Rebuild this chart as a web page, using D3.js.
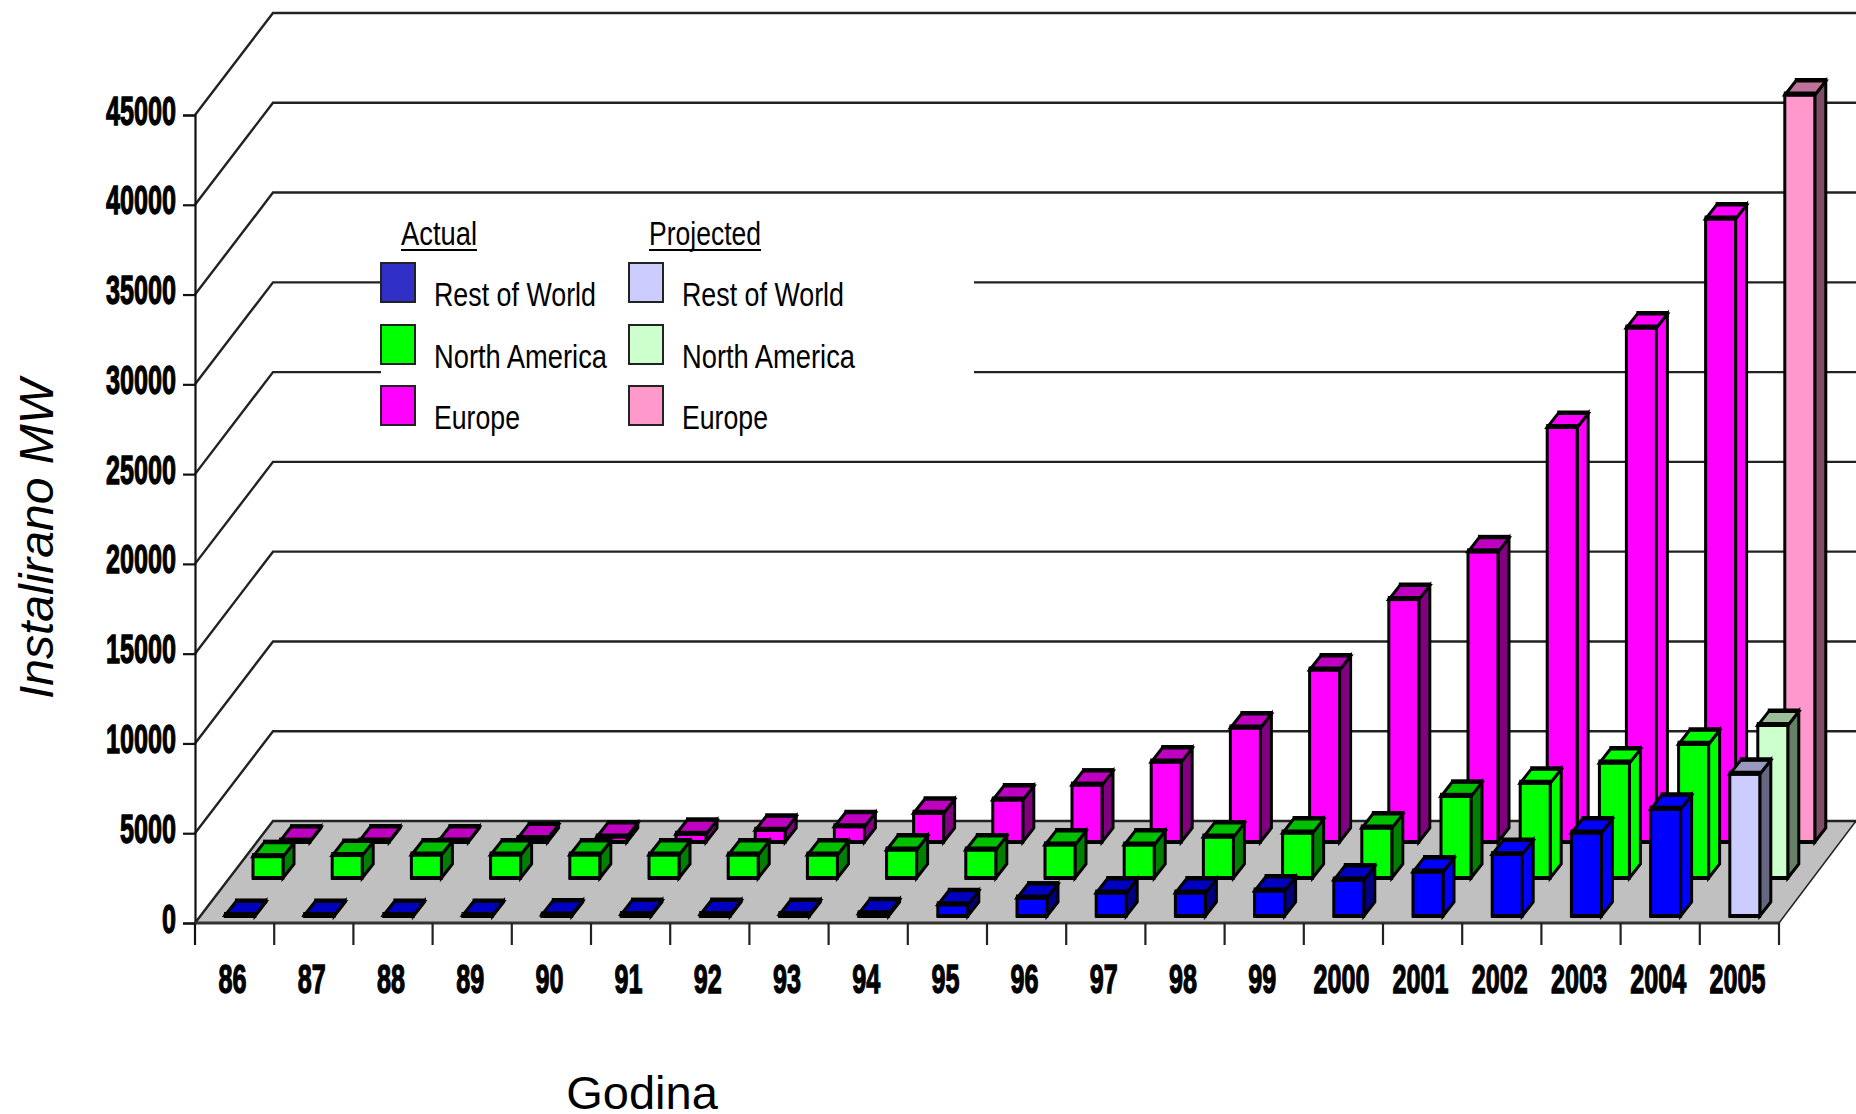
<!DOCTYPE html>
<html>
<head>
<meta charset="utf-8">
<title>Instalirano MW</title>
<script src="https://cdn.jsdelivr.net/npm/d3@7/dist/d3.min.js"></script>
<style>
  html, body { margin: 0; padding: 0; background: #fff; }
  svg { display: block; }
  text { font-family: "Liberation Sans", Arial, sans-serif; fill: #000; }
  .tick-label { font-weight: bold; font-size: 41px; stroke: #000; stroke-width: 1.3px; }
</style>
</head>
<body>
<svg id="chart" width="1856" height="1114"></svg>
<script>
// Installed capacity per year and region; the last year is a projection.
const years = ["86","87","88","89","90","91","92","93","94","95","96","97","98","99","2000","2001","2002","2003","2004","2005"];
const restOfWorld = [30,30,30,30,60,80,80,80,130,620,1000,1280,1280,1390,2000,2450,3430,4620,5940,7900];
const northAmerica = [1190,1250,1280,1280,1280,1280,1280,1280,1560,1560,1840,1840,2280,2500,2780,4550,5280,6400,7450,8500];
const europe = [50,50,50,200,280,430,650,850,1600,2340,3170,4450,6350,9580,13500,16160,23090,28630,34700,41600];
const yTicks = [0,5000,10000,15000,20000,25000,30000,35000,40000,45000];
const projectedYear = "2005";

const legendRows = ["Rest of World", "North America", "Europe"];
const legendRowWidths = [162, 173, 86];

// Frame of the oblique chart box.
const originX = 195, floorY = 923, endX = 1779, rightX = 1856;
const wallDX = 78, wallDY = -102;
const barW = 30, barDX = 11, barDY = -14;

const x = d3.scaleBand().domain(years).range([originX, endX]);
const y = d3.scaleLinear().domain([0, 45000]).range([floorY, 115]);

// Rows run from the back of the floor to the front.
const rows = [
  { name: "Europe", values: europe, offset: 85, lift: floorY - 842, brightFrom: 16,
    front: "#ff00ff", top: "#c000c0", side: "#800080",
    pFront: "#ff99cc", pTop: "#c0739a", pSide: "#804d66", key: "#ff00ff", pKey: "#ff99cc" },
  { name: "North America", values: northAmerica, offset: 58, lift: floorY - 878, brightFrom: 16,
    front: "#00ff00", top: "#00c000", side: "#008000",
    pFront: "#ccffcc", pTop: "#99c099", pSide: "#668066", key: "#00ff00", pKey: "#ccffcc" },
  { name: "Rest of World", values: restOfWorld, offset: 30, lift: floorY - 916, brightFrom: 15,
    front: "#0000ff", top: "#0000c0", side: "#000080",
    pFront: "#ccccff", pTop: "#9999c0", pSide: "#666680", key: "#3030c8", pKey: "#ccccff" }
];

const svg = d3.select("#chart");
const pts = a => a.map(p => p.join(",")).join(" ");

// Floor
svg.append("polygon")
  .attr("points", pts([[originX, floorY], [endX, floorY], [rightX, floorY + wallDY], [originX + wallDX, floorY + wallDY]]))
  .attr("fill", "#c0c0c0");

// Wall gridlines with their slanted returns to the axis
const grid = svg.append("g").attr("fill", "none").attr("stroke", "#222").attr("stroke-width", 2.4);
grid.selectAll("polyline").data(yTicks).join("polyline")
  .attr("points", d => pts([[originX, y(d)], [originX + wallDX, y(d) + wallDY], [rightX, y(d) + wallDY]]));
grid.append("line")
  .attr("x1", endX).attr("y1", floorY).attr("x2", rightX).attr("y2", floorY + wallDY)
  .attr("stroke-width", 1.5);

// Legend panel sits over the wall
svg.append("rect").attr("x", 381).attr("y", 204).attr("width", 593).attr("height", 234).attr("fill", "#fff");

const legend = svg.append("g");
const columns = [
  { title: "Actual", titleX: 401, titleW: 76, swatchX: 381, textX: 434, color: r => r.key },
  { title: "Projected", titleX: 649, titleW: 112, swatchX: 629, textX: 682, color: r => r.pKey }
];
const legendOrder = legendRows.map(n => rows.find(r => r.name === n));
const swatchY = [263, 325, 386], labelY = [306, 368, 429];
columns.forEach(c => {
  legend.append("text").text(c.title)
    .attr("x", c.titleX).attr("y", 245).attr("font-size", 33)
    .attr("textLength", c.titleW).attr("lengthAdjust", "spacingAndGlyphs");
  legend.append("line")
    .attr("x1", c.titleX).attr("x2", c.titleX + c.titleW).attr("y1", 250).attr("y2", 250)
    .attr("stroke", "#000").attr("stroke-width", 2);
  legendOrder.forEach((r, i) => {
    legend.append("rect")
      .attr("x", c.swatchX).attr("y", swatchY[i]).attr("width", 34).attr("height", 39)
      .attr("fill", c.color(r)).attr("stroke", "#222").attr("stroke-width", 2);
    legend.append("text").text(legendRows[i])
      .attr("x", c.textX).attr("y", labelY[i]).attr("font-size", 33)
      .attr("textLength", legendRowWidths[i]).attr("lengthAdjust", "spacingAndGlyphs");
  });
});

// Bars: each one is a front face, a side face and a top face
const barH = d => y(0) - y(d);
rows.forEach(r => {
  const g = svg.append("g").attr("stroke", "#000").attr("stroke-linejoin", "miter");
  years.forEach((yr, i) => {
    const v = r.values[i];
    const projected = yr === projectedYear;
    const bright = i >= r.brightFrom;
    const frontFill = projected ? r.pFront : r.front;
    const topFill = projected ? r.pTop : (bright ? r.front : r.top);
    const sideFill = projected ? r.pSide : (bright ? r.front : r.side);
    const bx = x(yr) + r.offset;
    const base = floorY - r.lift;
    const topY = base - barH(v);
    g.append("polygon")
      .attr("points", pts([[bx + barW, base], [bx + barW + barDX, base + barDY], [bx + barW + barDX, topY + barDY], [bx + barW, topY]]))
      .attr("fill", sideFill).attr("stroke-width", 3);
    g.append("polygon")
      .attr("points", pts([[bx, topY], [bx + barDX, topY + barDY], [bx + barW + barDX, topY + barDY], [bx + barW, topY]]))
      .attr("fill", topFill).attr("stroke-width", 3);
    g.append("line")
      .attr("x1", bx + barDX - 1).attr("x2", bx + barW + barDX + 1)
      .attr("y1", topY + barDY - 1).attr("y2", topY + barDY - 1)
      .attr("stroke-width", 4);
    g.append("rect")
      .attr("x", bx).attr("y", topY).attr("width", barW).attr("height", barH(v))
      .attr("fill", frontFill).attr("stroke-width", 3);
    g.append("line")
      .attr("x1", bx - 1).attr("x2", bx + barW + 1).attr("y1", topY - 1).attr("y2", topY - 1)
      .attr("stroke-width", 5);
    g.append("line")
      .attr("x1", bx - 1).attr("x2", bx + barW + 1).attr("y1", base).attr("y2", base)
      .attr("stroke-width", 4);
  });
});

// Value axis
const yAxis = d3.axisLeft(y).tickValues(yTicks).tickFormat(d3.format("d")).tickSize(12).tickPadding(7);
const yG = svg.append("g").attr("transform", `translate(${originX},0)`).call(yAxis);
yG.selectAll("path,line").attr("stroke", "#111").attr("stroke-width", 2.2);
yG.selectAll("text").attr("class", "tick-label")
  .attr("dy", "9px")
  .attr("font-family", null).attr("font-size", null)
  .attr("textLength", d => String(d).length * 14)
  .attr("lengthAdjust", "spacingAndGlyphs");
yG.append("line").attr("x1", 0).attr("x2", 0).attr("y1", floorY).attr("y2", floorY + 22)
  .attr("stroke", "#111").attr("stroke-width", 2.2);

// Year axis: ticks fall between the bands, labels sit inside them, squeezed to a narrow cut
const xG = svg.append("g");
xG.append("line").attr("x1", originX).attr("x2", endX).attr("y1", floorY).attr("y2", floorY)
  .attr("stroke", "#333").attr("stroke-width", 3);
xG.selectAll("line.tick").data(years.slice(1).concat("end")).join("line").attr("class", "tick")
  .attr("x1", d => d === "end" ? endX : x(d)).attr("x2", d => d === "end" ? endX : x(d))
  .attr("y1", floorY).attr("y2", floorY + 22)
  .attr("stroke", "#222").attr("stroke-width", 2.2);
xG.selectAll("text").data(years).join("text").attr("class", "tick-label")
  .text(d => d)
  .attr("transform", d => `translate(${x(d) + x.bandwidth() / 2 - 2},993) scale(0.614,1)`)
  .attr("text-anchor", "middle");

// Axis titles
svg.append("text").text("Godina")
  .attr("x", 642).attr("y", 1109).attr("text-anchor", "middle").attr("font-size", 47);
svg.append("text").text("Instalirano MW")
  .attr("transform", "translate(53,539) rotate(-90)")
  .attr("text-anchor", "middle").attr("font-size", 48).attr("font-style", "italic");
</script>
</body>
</html>
